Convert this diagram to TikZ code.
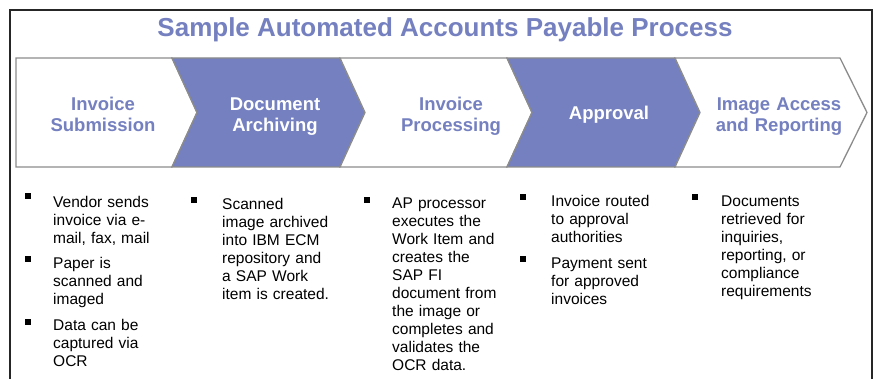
\documentclass[tikz,border=0pt]{standalone}
\usepackage{fontspec}
\setmainfont{Liberation Sans}
\definecolor{apblue}{RGB}{116,128,191}
\definecolor{apgray}{RGB}{140,140,140}
\begin{document}
\begin{tikzpicture}[x=1pt,y=-1pt,
  stage/.style={draw=apgray, line width=1.3pt, line join=miter},
  lbl/.style={anchor=base, inner sep=0pt, text width=150pt, font=\fontsize{18.5}{21}\selectfont\bfseries, align=center},
  bul/.style={fill=black, inner sep=0pt, minimum size=6.5pt},
  item/.style={anchor=base west, inner sep=0pt, text width=125pt, align=left, font=\fontsize{15.5}{18}\selectfont}]
\useasboundingbox (0,0) rectangle (875,379);
\fill[white] (0,0) rectangle (875,379);
% outer frame, open at the bottom
\draw[line width=1.3pt, black!85] (10,379) -- (10,10) -- (872,10) -- (872,379);
\node[font=\fontsize{26}{30}\selectfont\bfseries, text=apblue] (title) at (445,29.5) {Sample Automated Accounts Payable Process};
% the five stages
\draw[stage, fill=white] (16,58) -- (172,58) -- (197,112.5) -- (172,167) -- (16,167) -- cycle;
\draw[stage, fill=apblue] (172,58) -- (340,58) -- (365,112.5) -- (340,167) -- (172,167) -- (197,112.5) -- cycle;
\draw[stage, fill=white] (340,58) -- (507,58) -- (532,112.5) -- (507,167) -- (340,167) -- (365,112.5) -- cycle;
\draw[stage, fill=apblue] (507,58) -- (675,58) -- (700,112.5) -- (675,167) -- (507,167) -- (532,112.5) -- cycle;
\draw[stage, fill=white] (675,58) -- (840,58) -- (867,112.5) -- (840,167) -- (675,167) -- (700,112.5) -- cycle;
\node[lbl, text=apblue] (s1) at (103,110.8) {Invoice\\Submission};
\node[lbl, text=white] (s2) at (275,110.8) {Document\\Archiving};
\node[lbl, text=apblue] (s3) at (451,110.8) {Invoice\\Processing};
\node[lbl, text=white] (s4) at (609,120) {Approval};
\node[lbl, text=apblue] (s5) at (779,110.8) {Image Access\\and Reporting};
% bullet lists under each stage
\node[bul] (b11) at (28,196) {};
\node[item] (t11) at (53,207.5) {Vendor sends\\invoice via e-\\mail, fax, mail};
\node[bul] (b12) at (28,259) {};
\node[item] (t12) at (53,268.5) {Paper is\\scanned and\\imaged};
\node[bul] (b13) at (28,322) {};
\node[item] (t13) at (53,330.5) {Data can be\\captured via\\OCR};
\node[bul] (b21) at (194,200) {};
\node[item] (t21) at (222,209.5) {Scanned\\image archived\\into IBM ECM\\repository and\\a SAP Work\\item is created.};
\node[bul] (b31) at (367,200) {};
\node[item] (t31) at (392,208.5) {AP processor\\executes the\\Work Item and\\creates the\\SAP FI\\document from\\the image or\\completes and\\validates the\\OCR data.};
\node[bul] (b41) at (523,197) {};
\node[item] (t41) at (551,206.5) {Invoice routed\\to approval\\authorities};
\node[bul] (b42) at (523,259) {};
\node[item] (t42) at (551,268.5) {Payment sent\\for approved\\invoices};
\node[bul] (b51) at (695,197) {};
\node[item] (t51) at (721,206.5) {Documents\\retrieved for\\inquiries,\\reporting, or\\compliance\\requirements};
\end{tikzpicture}
\end{document}
